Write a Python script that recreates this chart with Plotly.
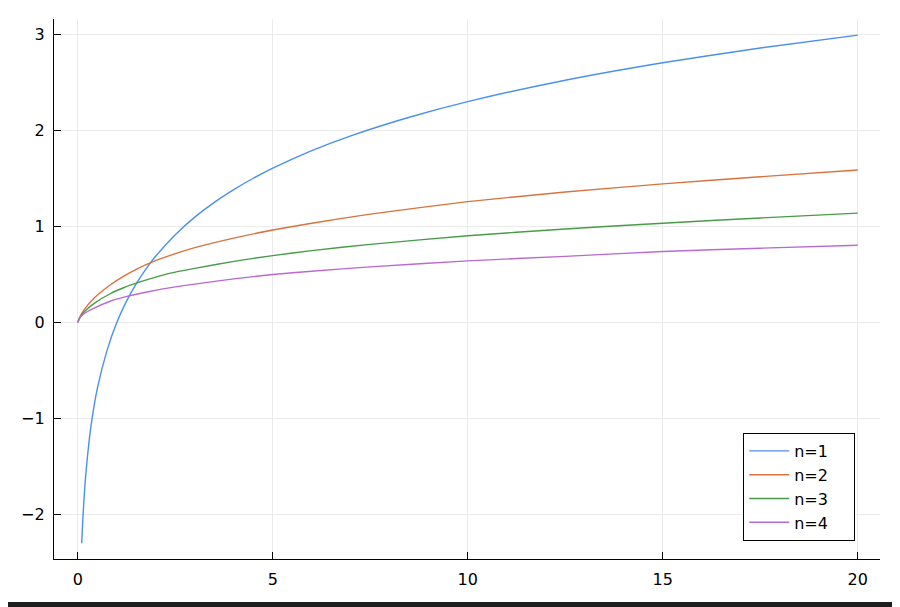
import plotly.graph_objects as go

# Values
x1 = [0.1, 0.136, 0.2, 0.3, 0.367, 0.5, 0.75, 1.0, 1.25, 1.5, 1.75, 2.0, 2.5, 3.0, 3.5, 4.0, 4.5, 5.0, 6.0, 7.0, 8.5, 10.0, 12.5, 15.0, 17.5, 20.0]
y1 = [-2.30, -2.0, -1.61, -1.20, -1.0, -0.69, -0.29, 0.0, 0.223, 0.405, 0.56, 0.693, 0.916, 1.099, 1.253, 1.386, 1.504, 1.609, 1.792, 1.946, 2.14, 2.303, 2.526, 2.708, 2.862, 2.996]

x2 = [0.0, 0.05, 0.16, 0.42, 0.83, 1.19, 1.5, 1.84, 2.37, 3.0, 4.0, 5.0, 6.0, 7.5, 10.0, 12.5, 15.0, 17.5, 20.0]
y2 = [0.0, 0.056, 0.132, 0.255, 0.391, 0.486, 0.555, 0.62, 0.70, 0.78, 0.88, 0.964, 1.035, 1.13, 1.26, 1.36, 1.445, 1.52, 1.59]

x3 = [0.0, 0.05, 0.16, 0.42, 0.83, 1.19, 1.5, 2.11, 2.5, 3.0, 4.0, 5.0, 6.0, 7.5, 10.0, 12.5, 15.0, 17.5, 20.0]
y3 = [0.0, 0.05, 0.109, 0.20, 0.30, 0.365, 0.41, 0.486, 0.525, 0.565, 0.637, 0.698, 0.750, 0.815, 0.905, 0.975, 1.035, 1.09, 1.14]

x4 = [0.0, 0.05, 0.16, 0.42, 0.83, 1.19, 1.5, 2.11, 2.5, 3.0, 4.0, 5.0, 6.0, 7.5, 10.0, 12.5, 15.0, 17.5, 20.0]
y4 = [0.0, 0.045, 0.092, 0.15, 0.222, 0.265, 0.295, 0.345, 0.372, 0.40, 0.455, 0.50, 0.535, 0.58, 0.643, 0.69, 0.74, 0.775, 0.806]

names = ["n=1", "n=2", "n=3", "n=4"]
colors = ["#4a90f0", "#d9723f", "#479c47", "#bb69d2"]

x_ticks = [0, 5, 10, 15, 20]
y_ticks = [-2, -1, 0, 1, 2, 3]

fig = go.Figure()
for xs, ys, nm, c in zip([x1, x2, x3, x4], [y1, y2, y3, y4], names, colors):
    fig.add_trace(go.Scatter(x=xs, y=ys, mode="lines", name=nm + "\u00a0\u00a0\u00a0\u00a0",
                             line=dict(color=c, width=1.4, shape="spline", smoothing=0.6)))

font = "DejaVu Sans"
fig.update_layout(
    width=892, height=599,
    margin=dict(l=46, r=20, t=11, b=48),
    paper_bgcolor="white", plot_bgcolor="white",
    font=dict(family=font, size=16, color="black"),
    showlegend=True,
    legend=dict(x=0.970, y=0.0333, xanchor="right", yanchor="bottom",
                bordercolor="black", borderwidth=1, bgcolor="white",
                font=dict(family=font, size=16), tracegroupgap=0,
                itemwidth=40),
    xaxis=dict(range=[-0.61, 20.57], tickvals=x_ticks, ticks="inside", ticklen=7,
               tickcolor="black", showline=True, linecolor="black", linewidth=1.3,
               showgrid=True, gridcolor="#ebebeb", gridwidth=1, zeroline=False,
               ticklabelstandoff=6, tickfont=dict(size=16)),
    yaxis=dict(range=[-2.465, 3.164], tickvals=y_ticks, ticks="inside", ticklen=7,
               tickcolor="black", showline=True, linecolor="black", linewidth=1.3,
               showgrid=True, gridcolor="#ebebeb", gridwidth=1, zeroline=False,
               ticklabelstandoff=5, tickfont=dict(size=16)),
    shapes=[
        dict(type="rect", xref="paper", yref="paper", x0=-0.2, x1=1.2,
             y0=-48 / 540, y1=-43 / 540,
             fillcolor="#1e1e1e", line=dict(width=0), layer="above"),
    ],
)

fig.write_html("out.html")
